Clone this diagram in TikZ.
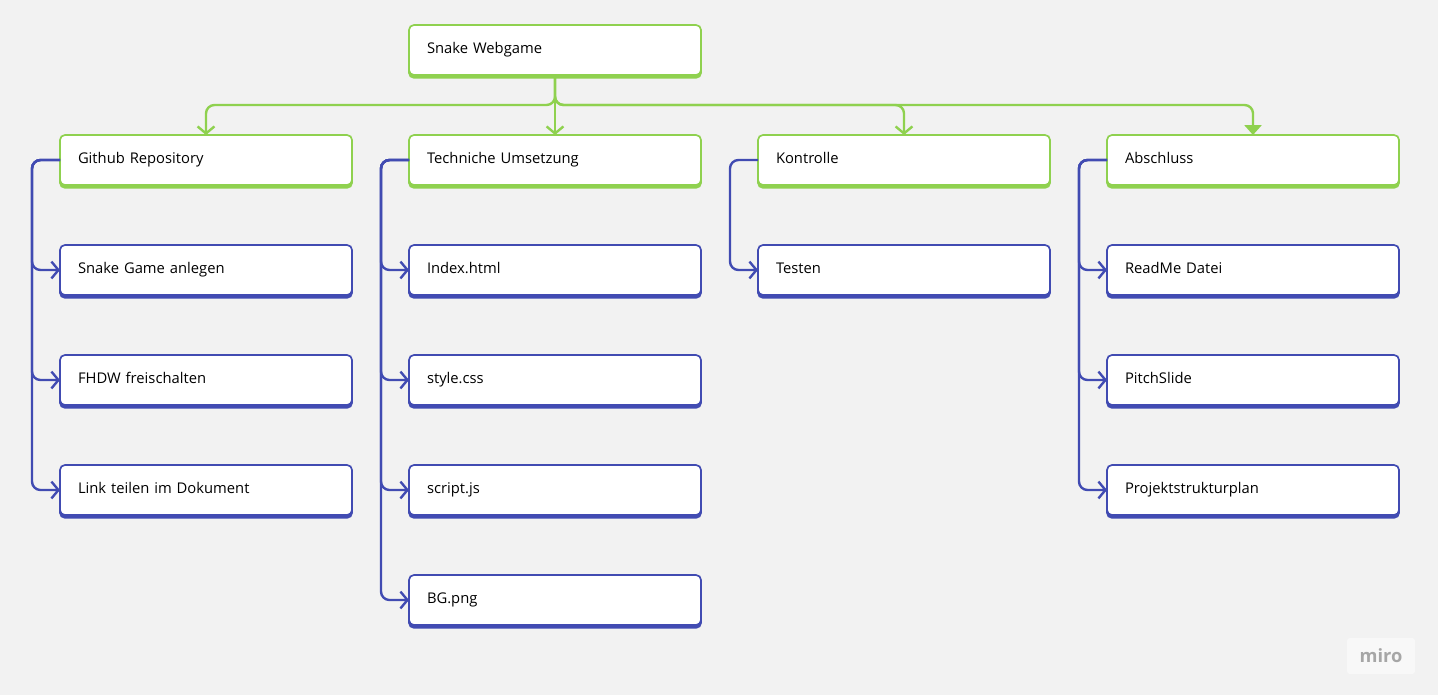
\documentclass[tikz,border=0pt]{standalone}
\usepackage{fontspec}
\setmainfont{Open Sans}
\usetikzlibrary{positioning, arrows.meta, shadows}
\definecolor{mirogreen}{HTML}{8FD14F}
\definecolor{miroblue}{HTML}{414BB2}
\definecolor{canvas}{HTML}{F2F2F2}
\tikzset{
    box/.style={rectangle, rounded corners=3.5pt, fill=white, line width=1.2pt, outer sep=0pt, text width=6.4cm, align=left, inner xsep=0.45cm, inner ysep=0pt, text height=0.7cm, text depth=0.55cm, font=\fontsize{10.5}{12}\selectfont},
    phase/.style={box, draw=mirogreen, copy shadow={shadow xshift=0pt, shadow yshift=-2pt, draw=mirogreen, fill=mirogreen}},
    task/.style={box, draw=miroblue, copy shadow={shadow xshift=0pt, shadow yshift=-2pt, draw=miroblue, fill=miroblue}},
    level/.style={draw=mirogreen, line width=1.7pt, rounded corners=6pt, -{Straight Barb[length=5pt, width=12pt]}},
    lastlevel/.style={level, -{Triangle[length=7pt, width=12pt]}},
    sub/.style={draw=miroblue, line width=1.7pt, rounded corners=6pt, -{Straight Barb[length=5pt, width=12pt]}}
}

\begin{document}
\begin{tikzpicture}[node distance=1.5cm and 1.425cm]
    \useasboundingbox (0,0) rectangle (35.95,-17.375);
    \fill[canvas] (0,0) rectangle (35.95,-17.375);

    % top level
    \node (root) [phase] at (13.875,-1.25) {Snake Webgame};

    % phases
    \node (tech) [phase, below=of root] {Techniche Umsetzung};
    \node (git) [phase, left=of tech] {Github Repository};
    \node (kontrolle) [phase, right=of tech] {Kontrolle};
    \node (abschluss) [phase, right=of kontrolle] {Abschluss};

    % tasks
    \node (git1) [task, below=of git] {Snake Game anlegen};
    \node (git2) [task, below=of git1] {FHDW freischalten};
    \node (git3) [task, below=of git2] {Link teilen im Dokument};

    \node (tech1) [task, below=of tech] {Index.html};
    \node (tech2) [task, below=of tech1] {style.css};
    \node (tech3) [task, below=of tech2] {script.js};
    \node (tech4) [task, below=of tech3] {BG.png};

    \node (kon1) [task, below=of kontrolle] {Testen};

    \node (abs1) [task, below=of abschluss] {ReadMe Datei};
    \node (abs2) [task, below=of abs1] {PitchSlide};
    \node (abs3) [task, below=of abs2] {Projektstrukturplan};

    % green connectors
    \draw [level] (root.south) -- ++(0,-0.75) -| (git.north);
    \draw [level] (root.south) -- (tech.north);
    \draw [level] (root.south) -- ++(0,-0.75) -| (kontrolle.north);
    \draw [lastlevel] (root.south) -- ++(0,-0.75) -| (abschluss.north);

    % blue connectors
    \foreach \p/\c in {git/git1, git/git2, git/git3, tech/tech1, tech/tech2, tech/tech3, tech/tech4, kontrolle/kon1, abschluss/abs1, abschluss/abs2, abschluss/abs3}
        \draw [sub] (\p.west) -- ++(-0.7,0) |- (\c.west);

    % watermark
    \node (logo) [fill=white!50!canvas, rounded corners=2pt, text=black!35, font=\fontsize{13}{14}\bfseries\selectfont, minimum width=1.7cm, minimum height=0.9cm] at (34.525,-16.4) {miro};
\end{tikzpicture}
\end{document}
